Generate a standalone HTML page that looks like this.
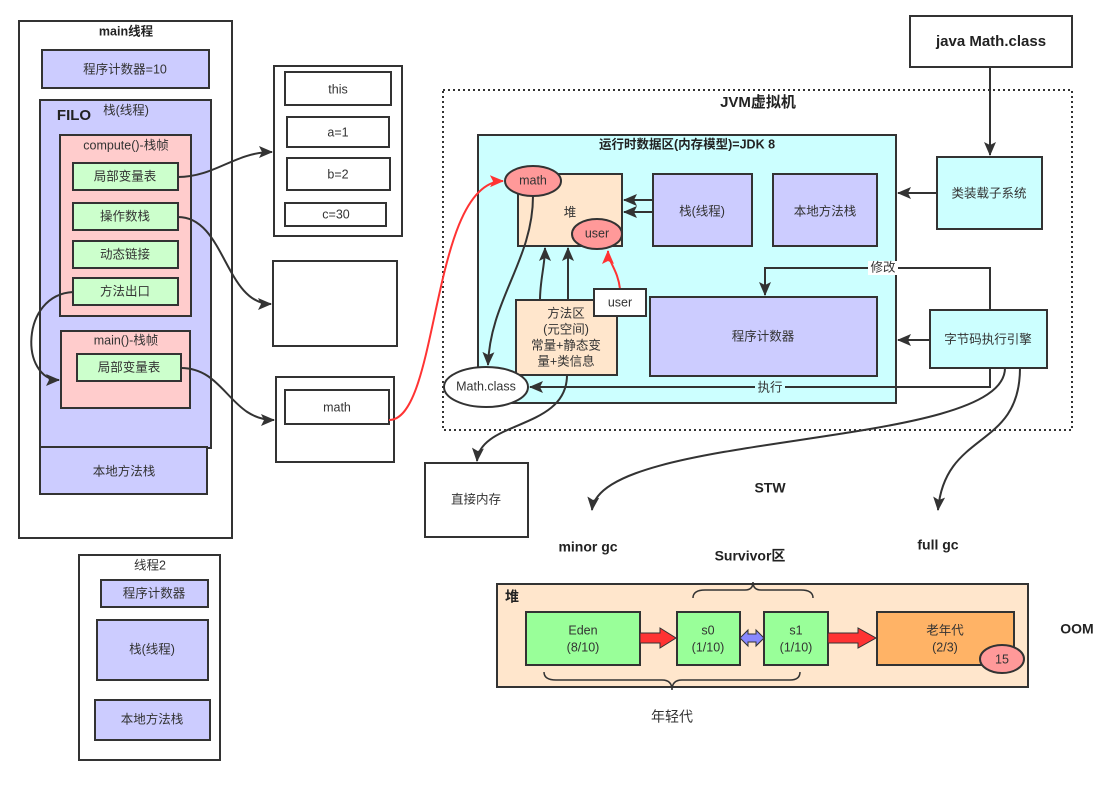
<!DOCTYPE html>
<html><head><meta charset="utf-8"><style>
body{margin:0;background:#fff}
text{font-family:"Liberation Sans","Noto Sans CJK SC",sans-serif;font-size:12.5px;fill:#333;text-anchor:middle;dominant-baseline:middle}
.b{font-weight:bold;fill:#222}
rect,ellipse{stroke:#333;stroke-width:2}
rect.n{stroke:none}
</style></head><body>
<svg width="1114" height="783" viewBox="0 0 1114 783" xmlns="http://www.w3.org/2000/svg">
<defs>
<marker id="a" markerWidth="14" markerHeight="12" refX="13" refY="6" orient="auto" markerUnits="userSpaceOnUse"><path d="M0,0 L14,6 L0,12 L3,6 z" fill="#333"/></marker>
<marker id="r" markerWidth="14" markerHeight="12" refX="13" refY="6" orient="auto" markerUnits="userSpaceOnUse"><path d="M0,0 L14,6 L0,12 L3,6 z" fill="#f33"/></marker>
</defs>
<!-- main thread -->
<rect x="19" y="21" width="213" height="517" fill="#fff"/>
<text x="126" y="32" class="b">main线程</text>
<rect x="42" y="50" width="167" height="38" fill="#ccccff"/>
<text x="125" y="70">程序计数器=10</text>
<rect x="40" y="100" width="171" height="348" fill="#ccccff"/>
<text x="74" y="116" class="b" style="font-size:15px">FILO</text>
<text x="126" y="111">栈(线程)</text>
<rect x="60" y="135" width="131" height="181" fill="#ffcccc"/>
<text x="126" y="146">compute()-栈帧</text>
<rect x="73" y="163" width="105" height="27" fill="#ccffcc"/><text x="125" y="177">局部变量表</text>
<rect x="73" y="203" width="105" height="27" fill="#ccffcc"/><text x="125" y="217">操作数栈</text>
<rect x="73" y="241" width="105" height="27" fill="#ccffcc"/><text x="125" y="255">动态链接</text>
<rect x="73" y="278" width="105" height="27" fill="#ccffcc"/><text x="125" y="292">方法出口</text>
<rect x="61" y="331" width="129" height="77" fill="#ffcccc"/>
<text x="126" y="341">main()-栈帧</text>
<rect x="77" y="354" width="104" height="27" fill="#ccffcc"/><text x="129" y="368">局部变量表</text>
<rect x="40" y="447" width="167" height="47" fill="#ccccff"/><text x="124" y="472">本地方法栈</text>
<!-- thread2 -->
<rect x="79" y="555" width="141" height="205" fill="#fff"/>
<text x="150" y="566">线程2</text>
<rect x="101" y="580" width="107" height="27" fill="#ccccff"/><text x="154" y="594">程序计数器</text>
<rect x="97" y="620" width="111" height="60" fill="#ccccff"/><text x="152" y="650">栈(线程)</text>
<rect x="95" y="700" width="115" height="40" fill="#ccccff"/><text x="152" y="720">本地方法栈</text>
<!-- frame boxes -->
<rect x="274" y="66" width="128" height="170" fill="#fff"/>
<rect x="285" y="72" width="106" height="33" fill="#fff"/><text x="338" y="90">this</text>
<rect x="287" y="117" width="102" height="30" fill="#fff"/><text x="338" y="133">a=1</text>
<rect x="287" y="158" width="103" height="32" fill="#fff"/><text x="338" y="175">b=2</text>
<rect x="285" y="203" width="101" height="23" fill="#fff"/><text x="336" y="215">c=30</text>
<rect x="273" y="261" width="124" height="85" fill="#fff"/>
<rect x="276" y="377" width="118" height="85" fill="#fff"/>
<rect x="285" y="390" width="104" height="34" fill="#fff"/><text x="337" y="408">math</text>
<!-- left connectors -->
<g fill="none" stroke="#333" stroke-width="2">
<path d="M178,177 C215,177 235,152 272,152" marker-end="url(#a)"/>
<path d="M178,217 C225,217 225,304 271,304" marker-end="url(#a)"/>
<path d="M73,292 C20,295 20,380 59,380" marker-end="url(#a)"/>
<path d="M181,368 C225,368 230,420 274,420" marker-end="url(#a)"/>
</g>
<!-- top -->
<rect x="910" y="16" width="162" height="51" fill="#fff"/>
<text x="991" y="42" class="b" style="font-size:15px">java Math.class</text>
<!-- JVM -->
<rect x="443" y="90" width="629" height="340" fill="none" style="stroke-dasharray:2 3"/>
<text x="758" y="103" class="b" style="font-size:15px">JVM虚拟机</text>
<rect x="478" y="135" width="418" height="268" fill="#ccffff"/>
<text x="687" y="145" class="b">运行时数据区(内存模型)=JDK 8</text>
<rect x="518" y="174" width="104" height="72" fill="#ffe6cc"/><text x="570" y="213">堆</text>
<rect x="653" y="174" width="99" height="72" fill="#ccccff"/><text x="702" y="212">栈(线程)</text>
<rect x="773" y="174" width="104" height="72" fill="#ccccff"/><text x="825" y="212">本地方法栈</text>
<rect x="937" y="157" width="105" height="72" fill="#ccffff"/><text x="989" y="194">类装载子系统</text>
<rect x="516" y="300" width="101" height="75" fill="#ffe6cc"/>
<text x="566" y="314">方法区</text><text x="566" y="330">(元空间)</text><text x="566" y="346">常量+静态变</text><text x="566" y="362">量+类信息</text>
<rect x="650" y="297" width="227" height="79" fill="#ccccff"/><text x="763" y="337">程序计数器</text>
<rect x="930" y="310" width="117" height="58" fill="#ccffff"/><text x="988" y="340">字节码执行引擎</text>
<g fill="none" stroke="#333" stroke-width="2">
<path d="M990,67 V155" marker-end="url(#a)"/>
<path d="M653,200 H624" marker-end="url(#a)"/>
<path d="M653,212 H624" marker-end="url(#a)"/>
<path d="M937,193 H898" marker-end="url(#a)"/>
<path d="M930,340 H898" marker-end="url(#a)"/>
<path d="M540,300 C540,280 545,265 545,248" marker-end="url(#a)"/>
<path d="M568,300 V248" marker-end="url(#a)"/>
<path d="M990,310 V268 H765 V295" marker-end="url(#a)"/>
<path d="M990,368 V387 H530" marker-end="url(#a)"/>
<path d="M533,196 C533,260 490,300 488,365" marker-end="url(#a)"/>
<path d="M567,375 C567,430 480,420 477,461" marker-end="url(#a)"/>
<path d="M1005,368 C1005,450 600,430 592,510" marker-end="url(#a)"/>
<path d="M1020,368 C1020,450 945,430 938,510" marker-end="url(#a)"/>
</g>
<rect class="n" x="868" y="261" width="30" height="14" fill="#fff"/><text x="883" y="268">修改</text>
<rect class="n" x="755" y="381" width="30" height="14" fill="#ccffff"/><text x="770" y="388">执行</text>
<path d="M389,420 C440,420 430,182 503,181" fill="none" stroke="#f33" stroke-width="2" marker-end="url(#r)"/>
<ellipse cx="533" cy="181" rx="28" ry="15" fill="#ff9999"/><text x="533" y="181">math</text>
<ellipse cx="597" cy="234" rx="25" ry="15" fill="#ff9999"/><text x="597" y="234">user</text>
<path d="M620,289 C618,270 608,262 608,251" fill="none" stroke="#f33" stroke-width="2" marker-end="url(#r)"/>
<rect x="594" y="289" width="52" height="27" fill="#fff"/><text x="620" y="303">user</text>
<ellipse cx="486" cy="387" rx="42" ry="20" fill="#fff"/><text x="486" y="387">Math.class</text>
<rect x="425" y="463" width="103" height="74" fill="#fff"/><text x="476" y="500">直接内存</text>
<text x="770" y="489" class="b" style="font-size:14px">STW</text>
<text x="588" y="548" class="b" style="font-size:14px">minor gc</text>
<text x="938" y="546" class="b" style="font-size:14px">full gc</text>
<text x="750" y="557" class="b" style="font-size:14px">Survivor区</text>
<text x="1077" y="630" class="b" style="font-size:14px">OOM</text>
<!-- heap -->
<rect x="497" y="584" width="531" height="103" fill="#ffe6cc"/>
<text x="512" y="598" class="b" style="font-size:14px">堆</text>
<rect x="526" y="612" width="114" height="53" fill="#99ff99"/><text x="583" y="631">Eden</text><text x="583" y="648">(8/10)</text>
<rect x="677" y="612" width="63" height="53" fill="#99ff99"/><text x="708" y="631">s0</text><text x="708" y="648">(1/10)</text>
<rect x="764" y="612" width="64" height="53" fill="#99ff99"/><text x="796" y="631">s1</text><text x="796" y="648">(1/10)</text>
<rect x="877" y="612" width="137" height="53" fill="#ffb366"/><text x="945" y="631">老年代</text><text x="945" y="648">(2/3)</text>
<ellipse cx="1002" cy="659" rx="22" ry="14" fill="#ff9999"/><text x="1002" y="660">15</text>
<path d="M640,633 H660 V628 L676,638 L660,648 V643 H640 z" fill="#f33" stroke="#333" stroke-width="1"/>
<path d="M828,633 H858 V628 L876,638 L858,648 V643 H828 z" fill="#f33" stroke="#333" stroke-width="1"/>
<path d="M740,638 L748,630 V634 H756 V630 L764,638 L756,646 V642 H748 V646 z" fill="#8888ff" stroke="#333" stroke-width="1"/>
<g fill="none" stroke="#333" stroke-width="1.5">
<path d="M693,598 Q693,590 705,590 H745 Q753,590 753,582 Q753,590 761,590 H801 Q813,590 813,598"/>
<path d="M544,672 Q544,680 556,680 H662 Q672,680 672,690 Q672,680 682,680 H790 Q800,680 800,672"/>
</g>
<text x="672" y="718" style="font-size:14px">年轻代</text>
</svg>
</body></html>
